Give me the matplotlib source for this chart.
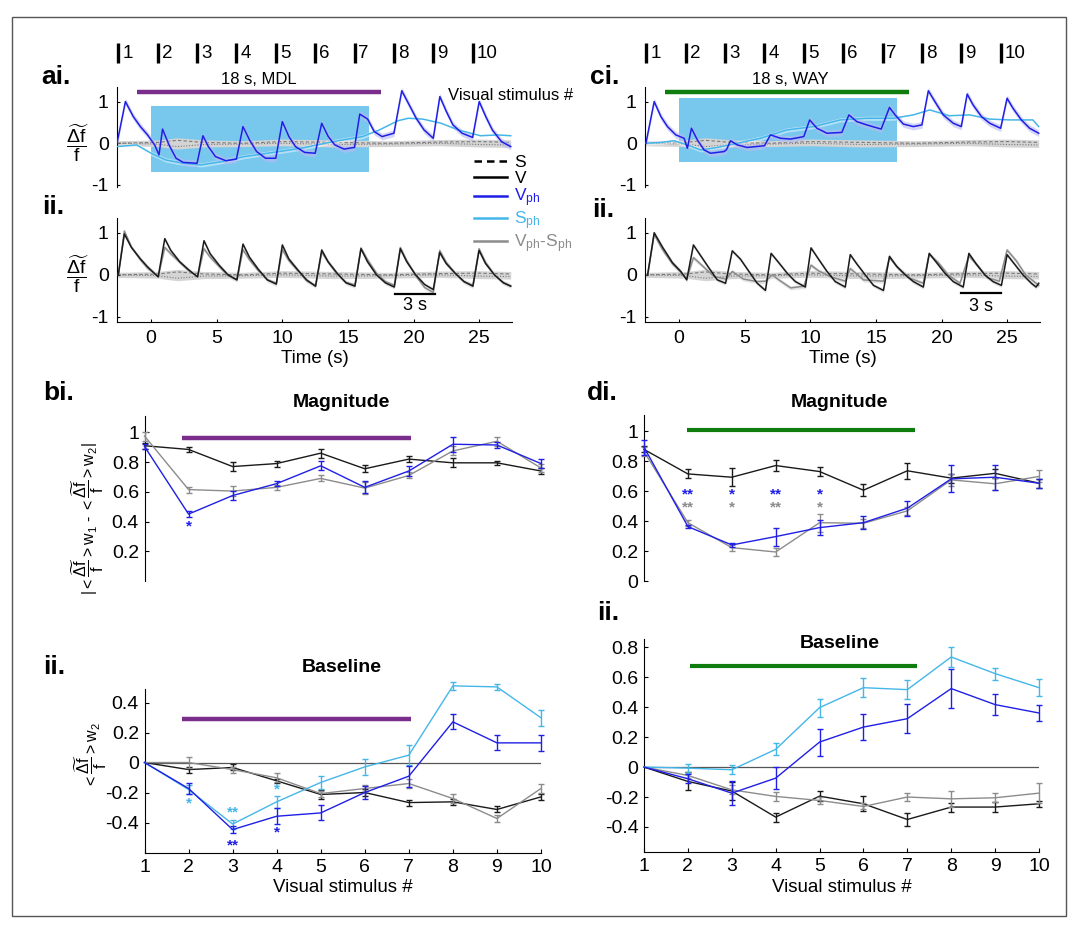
import numpy as np
import matplotlib
matplotlib.use("Agg")
import matplotlib.pyplot as plt
from matplotlib.lines import Line2D
from matplotlib.patches import Rectangle
from matplotlib.transforms import blended_transform_factory

plt.rcParams['font.family'] = ['Liberation Sans', 'DejaVu Sans']
plt.rcParams['mathtext.fontset'] = 'custom'
plt.rcParams['mathtext.rm'] = 'Liberation Sans'
plt.rcParams['mathtext.it'] = 'Liberation Sans:italic'
plt.rcParams['mathtext.bf'] = 'Liberation Sans:bold'
plt.rcParams['axes.unicode_minus'] = False

# colours
c_vph = '#1f1fe6'
c_sph = '#45b6ea'
c_diff = '#8c8c8c'
c_v = '#1a1a1a'
c_ctrl = '#7a7a7a'
c_mdl = '#7b2d8c'
c_way = '#0e7d0e'
c_win = '#78c8ee'

# ---------------- time courses (s, dF/F) ----------------
stim_t = [-2.5, 0.5, 3.5, 6.5, 9.5, 12.5, 15.5, 18.5, 21.5, 24.5]
drug_on, drug_off = -1.05, 17.55

# MDL, phasic responses (ai)
mdl_vph_t = [-2.6, -1.96, -1.36, -0.82, -0.27, 0.27, 0.6, 0.87, 1.36, 1.9, 2.45, 3.5, 3.95, 4.36, 4.9,
             5.7, 6.5, 7.0, 7.5, 8.04, 8.72, 9.5, 10.0, 10.5, 11.0, 11.7, 12.5, 13.0, 13.5, 14.0, 14.7,
             15.5, 15.9, 16.5, 17.0, 17.6, 18.5, 19.1, 19.6, 20.2, 20.8, 21.5, 22.0, 22.5, 23.0, 23.7,
             24.5, 25.0, 25.5, 26.0, 26.7, 27.4]
mdl_vph = [0.0, 1.0, 0.64, 0.4, 0.2, -0.04, -0.28, 0.34, -0.04, -0.36, -0.46, -0.48, 0.18, -0.08, -0.32,
           -0.42, -0.38, 0.4, 0.08, -0.2, -0.36, -0.36, 0.52, 0.16, -0.08, -0.22, -0.24, 0.48, 0.16, -0.04,
           -0.14, -0.1, 0.7, 0.58, 0.28, 0.16, 0.24, 1.26, 0.96, 0.6, 0.32, 0.12, 1.12, 0.76, 0.44, 0.24,
           0.14, 1.0, 0.64, 0.32, 0.04, -0.08]
mdl_sph_t = [-2.6, -1.1, 0.0, 1.1, 2.45, 3.8, 5.4, 7.1, 9.3, 11.4, 13.9, 16.1, 17.4, 18.8, 19.6, 20.7,
             22.1, 23.4, 25.1, 26.4, 27.4]
mdl_sph = [-0.08, -0.04, -0.24, -0.4, -0.48, -0.52, -0.44, -0.32, -0.22, -0.12, 0.04, 0.16, 0.32, 0.54,
           0.6, 0.58, 0.48, 0.32, 0.18, 0.2, 0.18]
mdl_win = [0.0, 16.6, -0.68, 0.9]

# MDL, tonic responses (aii)
mdl_v_t = [-2.5, -2.04, -1.5, -0.82, -0.27, 0.54, 1.04, 1.5, 2.18, 2.86, 3.54, 4.03, 4.5, 5.18, 5.86,
           6.54, 7.0, 7.49, 8.17, 8.86, 9.54, 10.0, 10.49, 11.17, 11.85, 12.53, 13.0, 13.49, 14.17, 14.85,
           15.53, 15.99, 16.49, 17.17, 17.85, 18.53, 18.99, 19.48, 20.16, 20.84, 21.5, 21.99, 22.48,
           23.16, 23.84, 24.52, 24.99, 25.48, 26.16, 26.84, 27.4]
mdl_v = [0.0, 0.97, 0.65, 0.38, 0.19, -0.05, 0.86, 0.58, 0.31, 0.12, -0.05, 0.81, 0.5, 0.23, 0.0,
         -0.12, 0.73, 0.42, 0.13, -0.12, -0.22, 0.71, 0.38, 0.12, -0.12, -0.27, 0.59, 0.31, 0.04, -0.19,
         -0.27, 0.62, 0.31, 0.0, -0.19, -0.29, 0.62, 0.31, 0.0, -0.23, -0.35, 0.53, 0.27, 0.04, -0.16,
         -0.27, 0.58, 0.27, 0.0, -0.19, -0.27]
mdl_diff = [0.0, 1.04, 0.66, 0.36, 0.16, -0.04, 0.65, 0.5, 0.3, 0.1, -0.04, 0.62, 0.42, 0.2, -0.02,
            -0.12, 0.6, 0.36, 0.1, -0.12, -0.2, 0.6, 0.34, 0.1, -0.14, -0.26, 0.54, 0.3, 0.02, -0.18,
            -0.24, 0.64, 0.36, 0.04, -0.16, -0.25, 0.65, 0.34, -0.02, -0.3, -0.42, 0.58, 0.3, 0.04, -0.16,
            -0.25, 0.62, 0.3, 0.0, -0.18, -0.26]

# WAY, phasic responses (ci)
way_vph_t = [-2.53, -1.9, -1.39, -0.89, -0.25, 0.38, 0.63, 0.94, 1.39, 1.9, 2.4, 3.42, 3.6, 3.92, 4.43,
             5.19, 6.5, 6.96, 7.72, 8.48, 9.5, 9.95, 10.5, 11.27, 12.4, 12.94, 13.54, 14.3, 15.4, 16.03,
             16.46, 17.09, 17.85, 18.5, 18.99, 19.49, 20.13, 20.89, 21.5, 21.95, 22.4, 23.04, 23.67,
             24.5, 24.99, 25.44, 26.08, 26.71, 27.4]
way_vph = [0.0, 1.0, 0.64, 0.4, 0.2, 0.12, -0.12, 0.36, 0.08, -0.16, -0.24, -0.2, -0.16, 0.06, -0.04,
           -0.1, -0.06, 0.2, 0.12, 0.1, 0.16, 0.56, 0.36, 0.24, 0.26, 0.68, 0.52, 0.44, 0.34, 0.86,
           0.68, 0.46, 0.4, 0.44, 1.26, 1.0, 0.68, 0.48, 0.4, 1.18, 0.92, 0.64, 0.48, 0.36, 1.08, 0.84,
           0.56, 0.36, 0.24]
way_sph_t = [-2.53, -1.39, -0.38, 0.63, 1.65, 2.91, 4.43, 6.2, 8.23, 10.25, 12.28, 14.3, 16.33, 17.85,
             19.1, 20.6, 22.15, 23.67, 25.19, 26.96, 27.4]
way_sph = [0.0, 0.02, 0.06, -0.04, -0.16, -0.1, 0.0, 0.12, 0.32, 0.4, 0.56, 0.6, 0.6, 0.68, 0.8, 0.66,
           0.68, 0.58, 0.56, 0.56, 0.4]
way_win = [0.0, 16.6, -0.46, 1.09]

# WAY, tonic responses (cii)
way_v_t = [-2.4, -1.9, -1.27, -0.51, 0.13, 0.58, 1.09, 1.65, 2.28, 2.91, 3.54, 4.05, 4.68, 5.32, 5.95,
           6.58, 7.01, 7.59, 8.23, 8.86, 9.62, 10.05, 10.63, 11.27, 11.9, 12.66, 13.04, 13.54, 14.18,
           14.81, 15.57, 16.03, 16.58, 17.22, 17.85, 18.61, 19.06, 19.62, 20.25, 20.89, 21.65, 22.08,
           22.66, 23.29, 23.92, 24.56, 24.99, 25.57, 26.2, 26.84, 27.2, 27.4]
way_v = [0.0, 1.0, 0.66, 0.29, 0.08, -0.12, 0.71, 0.45, 0.16, -0.12, -0.2, 0.57, 0.37, 0.08, -0.2,
         -0.37, 0.51, 0.29, 0.04, -0.16, -0.29, 0.64, 0.37, 0.08, -0.16, -0.29, 0.48, 0.26, 0.0, -0.25,
         -0.37, 0.44, 0.2, 0.0, -0.16, -0.29, 0.51, 0.29, 0.04, -0.16, -0.29, 0.51, 0.25, 0.0, -0.16,
         -0.25, 0.48, 0.25, 0.0, -0.2, -0.29, -0.2]
way_diff_t = [-2.4, -1.9, -1.27, -0.51, 0.13, 0.58, 1.09, 1.65, 2.66, 3.6, 4.05, 4.9, 5.95, 6.58, 7.1,
              7.6, 8.5, 9.5, 10.05, 10.6, 11.5, 12.66, 13.04, 14.05, 15.57, 16.03, 16.7, 17.6, 18.6,
              19.06, 19.75, 20.5, 21.4, 22.08, 22.8, 23.5, 24.4, 24.99, 25.7, 26.4, 27.4]
way_diff = [0.0, 0.96, 0.6, 0.26, 0.06, -0.1, 0.41, 0.25, -0.04, -0.1, 0.08, -0.1, -0.16, -0.15, 0.0,
            -0.12, -0.31, -0.27, 0.23, 0.1, -0.04, -0.15, 0.15, -0.12, -0.15, 0.41, 0.16, -0.08, -0.2,
            0.49, 0.29, 0.0, -0.2, 0.45, 0.2, -0.07, -0.15, 0.59, 0.33, 0.0, -0.25]

# static controls (S, V) hovering around zero
ctrl_t = [-2.6, 0.5, 2.0, 4.0, 7.0, 10.0, 14.0, 18.0, 22.0, 25.0, 27.4]
ctrl_s = [0.0, 0.02, 0.07, 0.02, 0.0, 0.04, 0.02, 0.0, 0.03, 0.04, 0.02]
ctrl_v = [0.0, -0.02, -0.08, -0.03, -0.02, 0.0, -0.03, -0.02, 0.0, -0.03, -0.04]
sem_vph, sem_sph, sem_ctrl, sem_tonic = 0.08, 0.05, 0.06, 0.05

# ---------------- per-stimulus summaries ----------------
stim_no = np.arange(1, 11)

mdl_mag_v = [0.91, 0.885, 0.77, 0.79, 0.86, 0.755, 0.82, 0.795, 0.795, 0.74]
mdl_mag_v_err = [0.02, 0.015, 0.03, 0.02, 0.03, 0.025, 0.02, 0.03, 0.015, 0.02]
mdl_mag_vph = [0.905, 0.45, 0.575, 0.655, 0.775, 0.63, 0.74, 0.92, 0.915, 0.79]
mdl_mag_vph_err = [0.02, 0.02, 0.03, 0.015, 0.03, 0.04, 0.035, 0.05, 0.02, 0.03]
mdl_mag_diff = [0.975, 0.615, 0.605, 0.63, 0.69, 0.625, 0.71, 0.875, 0.94, 0.76]
mdl_mag_diff_err = [0.03, 0.02, 0.035, 0.015, 0.02, 0.04, 0.02, 0.03, 0.03, 0.03]

mdl_base_v = [0, -0.047, -0.033, -0.122, -0.213, -0.2, -0.267, -0.262, -0.313, -0.229]
mdl_base_v_err = [0, 0.02, 0.02, 0.015, 0.03, 0.025, 0.02, 0.02, 0.02, 0.02]
mdl_base_diff = [0, 0.0, -0.047, -0.102, -0.207, -0.173, -0.14, -0.24, -0.373, -0.173]
mdl_base_diff_err = [0, 0.035, 0.02, 0.03, 0.02, 0.02, 0.03, 0.03, 0.025, 0.03]
mdl_base_sph = [0, -0.18, -0.41, -0.262, -0.133, -0.029, 0.049, 0.511, 0.504, 0.298]
mdl_base_sph_err = [0, 0.03, 0.03, 0.04, 0.045, 0.055, 0.065, 0.025, 0.02, 0.055]
mdl_base_vph = [0, -0.173, -0.447, -0.358, -0.336, -0.2, -0.091, 0.271, 0.131, 0.131]
mdl_base_vph_err = [0, 0.035, 0.025, 0.055, 0.05, 0.045, 0.07, 0.05, 0.05, 0.055]

way_mag_v = [0.88, 0.716, 0.694, 0.772, 0.732, 0.607, 0.737, 0.688, 0.72, 0.654]
way_mag_v_err = [0.02, 0.03, 0.06, 0.035, 0.03, 0.04, 0.055, 0.03, 0.03, 0.03]
way_mag_vph = [0.895, 0.364, 0.241, 0.297, 0.357, 0.39, 0.487, 0.683, 0.694, 0.654]
way_mag_vph_err = [0.05, 0.01, 0.015, 0.06, 0.05, 0.045, 0.05, 0.09, 0.085, 0.03]
way_mag_diff = [0.866, 0.39, 0.223, 0.194, 0.39, 0.386, 0.469, 0.676, 0.65, 0.699]
way_mag_diff_err = [0.03, 0.02, 0.02, 0.025, 0.06, 0.03, 0.025, 0.04, 0.04, 0.04]

way_base_sph = [0, -0.007, -0.018, 0.118, 0.397, 0.53, 0.517, 0.735, 0.624, 0.53]
way_base_sph_err = [0, 0.03, 0.03, 0.04, 0.06, 0.065, 0.065, 0.065, 0.04, 0.055]
way_base_vph = [0, -0.078, -0.174, -0.074, 0.167, 0.267, 0.323, 0.524, 0.417, 0.361]
way_base_vph_err = [0, 0.03, 0.08, 0.075, 0.09, 0.085, 0.095, 0.13, 0.07, 0.055]
way_base_v = [0, -0.096, -0.16, -0.334, -0.194, -0.245, -0.35, -0.267, -0.267, -0.245]
way_base_v_err = [0, 0.06, 0.06, 0.03, 0.035, 0.05, 0.045, 0.03, 0.035, 0.02]
way_base_diff = [0, -0.056, -0.152, -0.196, -0.223, -0.263, -0.2, -0.212, -0.205, -0.174]
way_base_diff_err = [0, 0.02, 0.03, 0.03, 0.025, 0.02, 0.025, 0.055, 0.03, 0.065]

# significance marks: (stimulus, y, label, colour)
mdl_mag_stars = [(2, 0.367, '*', c_vph)]
mdl_base_stars = [(2, -0.273, '*', c_sph), (3, -0.33, '**', c_sph), (4, -0.18, '*', c_sph),
                  (3, -0.551, '**', c_vph), (4, -0.469, '*', c_vph)]
way_mag_stars = [(2, 0.58, '**', c_vph), (3, 0.58, '*', c_vph), (4, 0.58, '**', c_vph), (5, 0.58, '*', c_vph),
                 (2, 0.495, '**', c_diff), (3, 0.495, '*', c_diff), (4, 0.495, '**', c_diff), (5, 0.495, '*', c_diff)]

W, H = 1078, 926
fig = plt.figure(figsize=(W / 100, H / 100), dpi=100)


def add_ax(l, t, r, b):
    return fig.add_axes([l / W, 1 - b / H, (r - l) / W, (b - t) / H])


def ftext(x, y, s, **kw):
    fig.text(x / W, 1 - y / H, s, **kw)


dff = r'\dfrac{\widetilde{\mathrm{\Delta f}}}{\mathrm{f}}'


def style_time(ax, bottom, ylim):
    ax.set_xlim(-2.6, 27.5)
    ax.set_ylim(*ylim)
    for s in ['top', 'right']:
        ax.spines[s].set_visible(False)
    ax.set_yticks([-1, 0, 1])
    ax.set_yticklabels(['-1', '0', '1'])
    ax.tick_params(axis='y', direction='in', length=2, labelsize=14, pad=6)
    if bottom:
        ax.set_xticks([0, 5, 10, 15, 20, 25])
        ax.tick_params(axis='x', direction='in', length=2, labelsize=14, pad=6)
        ax.set_xlabel('Time (s)', fontsize=13.5)
        ax.xaxis.set_label_coords(0.5, -0.27)
    else:
        ax.spines['bottom'].set_visible(False)
        ax.set_xticks([])


def controls(ax):
    lo = np.minimum(ctrl_s, ctrl_v) - sem_ctrl
    hi = np.maximum(ctrl_s, ctrl_v) + sem_ctrl
    ax.fill_between(ctrl_t, lo, hi, color='#d4d4d4', lw=0, zorder=1)
    ax.plot(ctrl_t, ctrl_s, color=c_ctrl, lw=0.8, ls=(0, (3, 2)), zorder=2)
    ax.plot(ctrl_t, ctrl_v, color=c_ctrl, lw=0.8, ls=(0, (1, 1.5)), zorder=2)


def phasic_panel(ax, vph_t, vph, sph_t, sph, win, bar_col, bar_txt, lab_x):
    style_time(ax, False, (-1.05, 1.35))
    ax.add_patch(Rectangle((win[0], win[2]), win[1] - win[0], win[3] - win[2],
                           color=c_win, lw=0, zorder=0.5))
    controls(ax)
    sph = np.array(sph)
    ax.fill_between(sph_t, sph - sem_sph, sph + sem_sph, color='white', alpha=0.45, lw=0, zorder=2)
    ax.plot(sph_t, sph, color=c_sph, lw=1.1, zorder=3)
    vph = np.array(vph)
    ax.fill_between(vph_t, vph - sem_vph, vph + sem_vph, color='#b9b9f2', alpha=0.6, lw=0, zorder=2)
    ax.plot(vph_t, vph, color=c_vph, lw=1.1, zorder=4)
    # drug application bar
    ax.plot([drug_on, drug_off], [1.24, 1.24], color=bar_col, lw=3.2, solid_capstyle='butt', clip_on=False)
    ax.text(lab_x, 1.52, bar_txt, ha='center', va='center', fontsize=12)
    # stimulus markers
    tr = blended_transform_factory(ax.transData, ax.transAxes)
    for k, t in enumerate(stim_t):
        ax.plot([t, t], [1.24, 1.44], color='k', lw=2.4, transform=tr, clip_on=False,
                solid_capstyle='butt')
        ax.text(t + 0.3, 1.34, str(k + 1), transform=tr, ha='left', va='center', fontsize=13.5)


def tonic_panel(ax, v_t, v, d_t, d, bar_t, bar_y, txt_y):
    style_time(ax, True, (-1.12, 1.35))
    controls(ax)
    v = np.array(v)
    d = np.array(d)
    ax.fill_between(v_t, v - sem_tonic, v + sem_tonic, color='#dedede', alpha=0.8, lw=0, zorder=1)
    ax.fill_between(d_t, d - sem_tonic, d + sem_tonic, color='#dedede', alpha=0.8, lw=0, zorder=1)
    ax.plot(d_t, d, color=c_diff, lw=1.1, zorder=3)
    ax.plot(v_t, v, color=c_v, lw=1.1, zorder=4)
    # 3 s scale bar
    ax.plot(bar_t, [bar_y, bar_y], color='k', lw=1.6)
    ax.text(np.mean(bar_t), txt_y, '3 s', ha='center', va='center', fontsize=13)


def summary_panel(ax, series, ylim, yticks, ylabels, bottom):
    ax.set_xlim(1, 10)
    ax.set_ylim(*ylim)
    for s in ['top', 'right']:
        ax.spines[s].set_visible(False)
    ax.set_yticks(yticks)
    ax.set_yticklabels(ylabels)
    ax.tick_params(axis='y', direction='in', length=3, labelsize=14, pad=4)
    if bottom:
        ax.axhline(0, color='#555555', lw=0.9, zorder=1)
        ax.set_xticks(stim_no)
        ax.tick_params(axis='x', direction='in', length=3, labelsize=14, pad=4)
        ax.set_xlabel('Visual stimulus #', fontsize=13.5)
    else:
        ax.spines['bottom'].set_visible(False)
        ax.set_xticks([])
    for y, e, c in series:
        y = np.array(y)
        e = np.array(e)
        ax.plot(stim_no, y, color=c, lw=1.0, zorder=3, clip_on=False)
        m = e > 0
        eb = ax.errorbar(stim_no[m], y[m], yerr=e[m], fmt='none', ecolor=c, elinewidth=1.0,
                         capsize=2.5, capthick=1.0, zorder=3)
        for art in eb.lines[1] + eb.lines[2]:
            art.set_clip_on(False)


def stars(ax, marks):
    for x, y, s, c in marks:
        ax.text(x, y, s, color=c, ha='center', va='center', fontsize=11, fontweight='bold')


# ---------------- top: time courses ----------------
ax_a = add_ax(117, 87, 512, 187)
ax_aii = add_ax(117, 218, 512, 322)
ax_c = add_ax(645, 87, 1040, 187)
ax_cii = add_ax(645, 218, 1040, 322)

phasic_panel(ax_a, mdl_vph_t, mdl_vph, mdl_sph_t, mdl_sph, mdl_win, c_mdl, '18 s, MDL', 8.2)
phasic_panel(ax_c, way_vph_t, way_vph, way_sph_t, way_sph, way_win, c_way, '18 s, WAY', 8.5)
tonic_panel(ax_aii, mdl_v_t, mdl_v, mdl_v_t, mdl_diff, [18.6, 21.6], -0.45, -0.73)
tonic_panel(ax_cii, way_v_t, way_v, way_diff_t, way_diff, [21.5, 24.5], -0.43, -0.75)

for ax, yc in ((ax_a, 0.44), (ax_aii, 0.455)):
    ax.text(-0.1, yc, '$' + dff + '$', transform=ax.transAxes,
            ha='center', va='center', fontsize=14)

ftext(448, 95, 'Visual stimulus #', ha='left', va='center', fontsize=12)

# legend sits across the two left time panels, so hang it on the figure
leg_handles = [Line2D([], [], color='k', lw=1.8, ls=(0, (3, 2))),
               Line2D([], [], color='k', lw=1.8),
               Line2D([], [], color=c_vph, lw=1.8),
               Line2D([], [], color=c_sph, lw=1.8),
               Line2D([], [], color=c_diff, lw=1.8)]
leg_labels = [r'$\mathrm{S}$', r'$\mathrm{V}$', r'$\mathrm{V_{ph}}$', r'$\mathrm{S_{ph}}$',
              r'$\mathrm{V_{ph}}$-$\mathrm{S_{ph}}$']
leg = fig.legend(leg_handles, leg_labels, loc='upper left', bbox_to_anchor=(474 / W, 1 - 154 / H),
                 frameon=False, fontsize=12.5, handlelength=1.9,
                 handletextpad=0.4, labelspacing=0.02, borderpad=0, borderaxespad=0)
for txt, col in zip(leg.get_texts(), ['k', 'k', c_vph, c_sph, c_diff]):
    txt.set_color(col)

# ---------------- bottom: per-stimulus summaries ----------------
ax_bi = add_ax(144.5, 416, 541, 581)
ax_bii = add_ax(144.5, 689, 541, 853)
ax_di = add_ax(644, 415, 1039, 581)
ax_dii = add_ax(644, 639, 1039, 852)

summary_panel(ax_bi, [(mdl_mag_v, mdl_mag_v_err, c_v), (mdl_mag_diff, mdl_mag_diff_err, c_diff),
                      (mdl_mag_vph, mdl_mag_vph_err, c_vph)],
              (0, 1.11), [0.2, 0.4, 0.6, 0.8, 1.0], ['0.2', '0.4', '0.6', '0.8', '1'], False)
summary_panel(ax_bii, [(mdl_base_v, mdl_base_v_err, c_v), (mdl_base_diff, mdl_base_diff_err, c_diff),
                       (mdl_base_sph, mdl_base_sph_err, c_sph), (mdl_base_vph, mdl_base_vph_err, c_vph)],
              (-0.603, 0.49), [-0.4, -0.2, 0, 0.2, 0.4], ['-0.4', '-0.2', '0', '0.2', '0.4'], True)
summary_panel(ax_di, [(way_mag_v, way_mag_v_err, c_v), (way_mag_diff, way_mag_diff_err, c_diff),
                      (way_mag_vph, way_mag_vph_err, c_vph)],
              (0, 1.11), [0, 0.2, 0.4, 0.6, 0.8, 1.0], ['0', '0.2', '0.4', '0.6', '0.8', '1'], False)
summary_panel(ax_dii, [(way_base_v, way_base_v_err, c_v), (way_base_diff, way_base_diff_err, c_diff),
                       (way_base_sph, way_base_sph_err, c_sph), (way_base_vph, way_base_vph_err, c_vph)],
              (-0.567, 0.855), [-0.4, -0.2, 0, 0.2, 0.4, 0.6, 0.8],
              ['-0.4', '-0.2', '0', '0.2', '0.4', '0.6', '0.8'], True)

ax_bii.xaxis.set_label_coords(0.5, -0.16)
ax_dii.xaxis.set_label_coords(0.5, -0.125)

stars(ax_bi, mdl_mag_stars)
stars(ax_bii, mdl_base_stars)
stars(ax_di, way_mag_stars)

# drug bars
ax_bi.plot([1.85, 7.04], [0.96, 0.96], color=c_mdl, lw=3.2, solid_capstyle='butt')
ax_bii.plot([1.85, 7.04], [0.287, 0.287], color=c_mdl, lw=3.2, solid_capstyle='butt')
ax_di.plot([1.98, 7.17], [1.01, 1.01], color=c_way, lw=3.0, solid_capstyle='butt')
ax_dii.plot([2.05, 7.23], [0.675, 0.675], color=c_way, lw=3.0, solid_capstyle='butt')

ax_bi.text(0.497, 1.08, 'Magnitude', transform=ax_bi.transAxes, ha='center', va='center',
           fontsize=14, fontweight='bold')
ax_di.text(0.496, 1.074, 'Magnitude', transform=ax_di.transAxes, ha='center', va='center',
           fontsize=14, fontweight='bold')
ax_bii.text(0.497, 1.134, 'Baseline', transform=ax_bii.transAxes, ha='center', va='center',
            fontsize=14, fontweight='bold')
ax_dii.text(0.496, 0.981, 'Baseline', transform=ax_dii.transAxes, ha='center', va='center',
            fontsize=14, fontweight='bold')

ax_bi.text(-0.145, 0.376, r'$|<' + dff + r'>\mathrm{w}_1$ - $<' + dff + r'>\mathrm{w}_2|$',
           transform=ax_bi.transAxes, rotation=90, ha='center', va='center', fontsize=11.5)
ax_bii.text(-0.137, 0.598, r'$<' + dff + r'>\mathrm{w}_2$',
            transform=ax_bii.transAxes, rotation=90, ha='center', va='center', fontsize=11.5)

# panel letters
for x, y, s in [(41, 77, 'ai.'), (42, 207, 'ii.'), (590, 77, 'ci.'), (592, 210, 'ii.'),
                (43, 393, 'bi.'), (43, 667, 'ii.'), (587, 393, 'di.'), (597, 613, 'ii.')]:
    ftext(x, y, s, ha='left', va='center', fontsize=19, fontweight='bold')

# figure frame
fig.patches.append(Rectangle((12 / W, 1 - 916 / H), 1054 / W, 899 / H, transform=fig.transFigure,
                             fill=False, ec='#555555', lw=1.0))

fig.savefig('out.png', dpi=100)
